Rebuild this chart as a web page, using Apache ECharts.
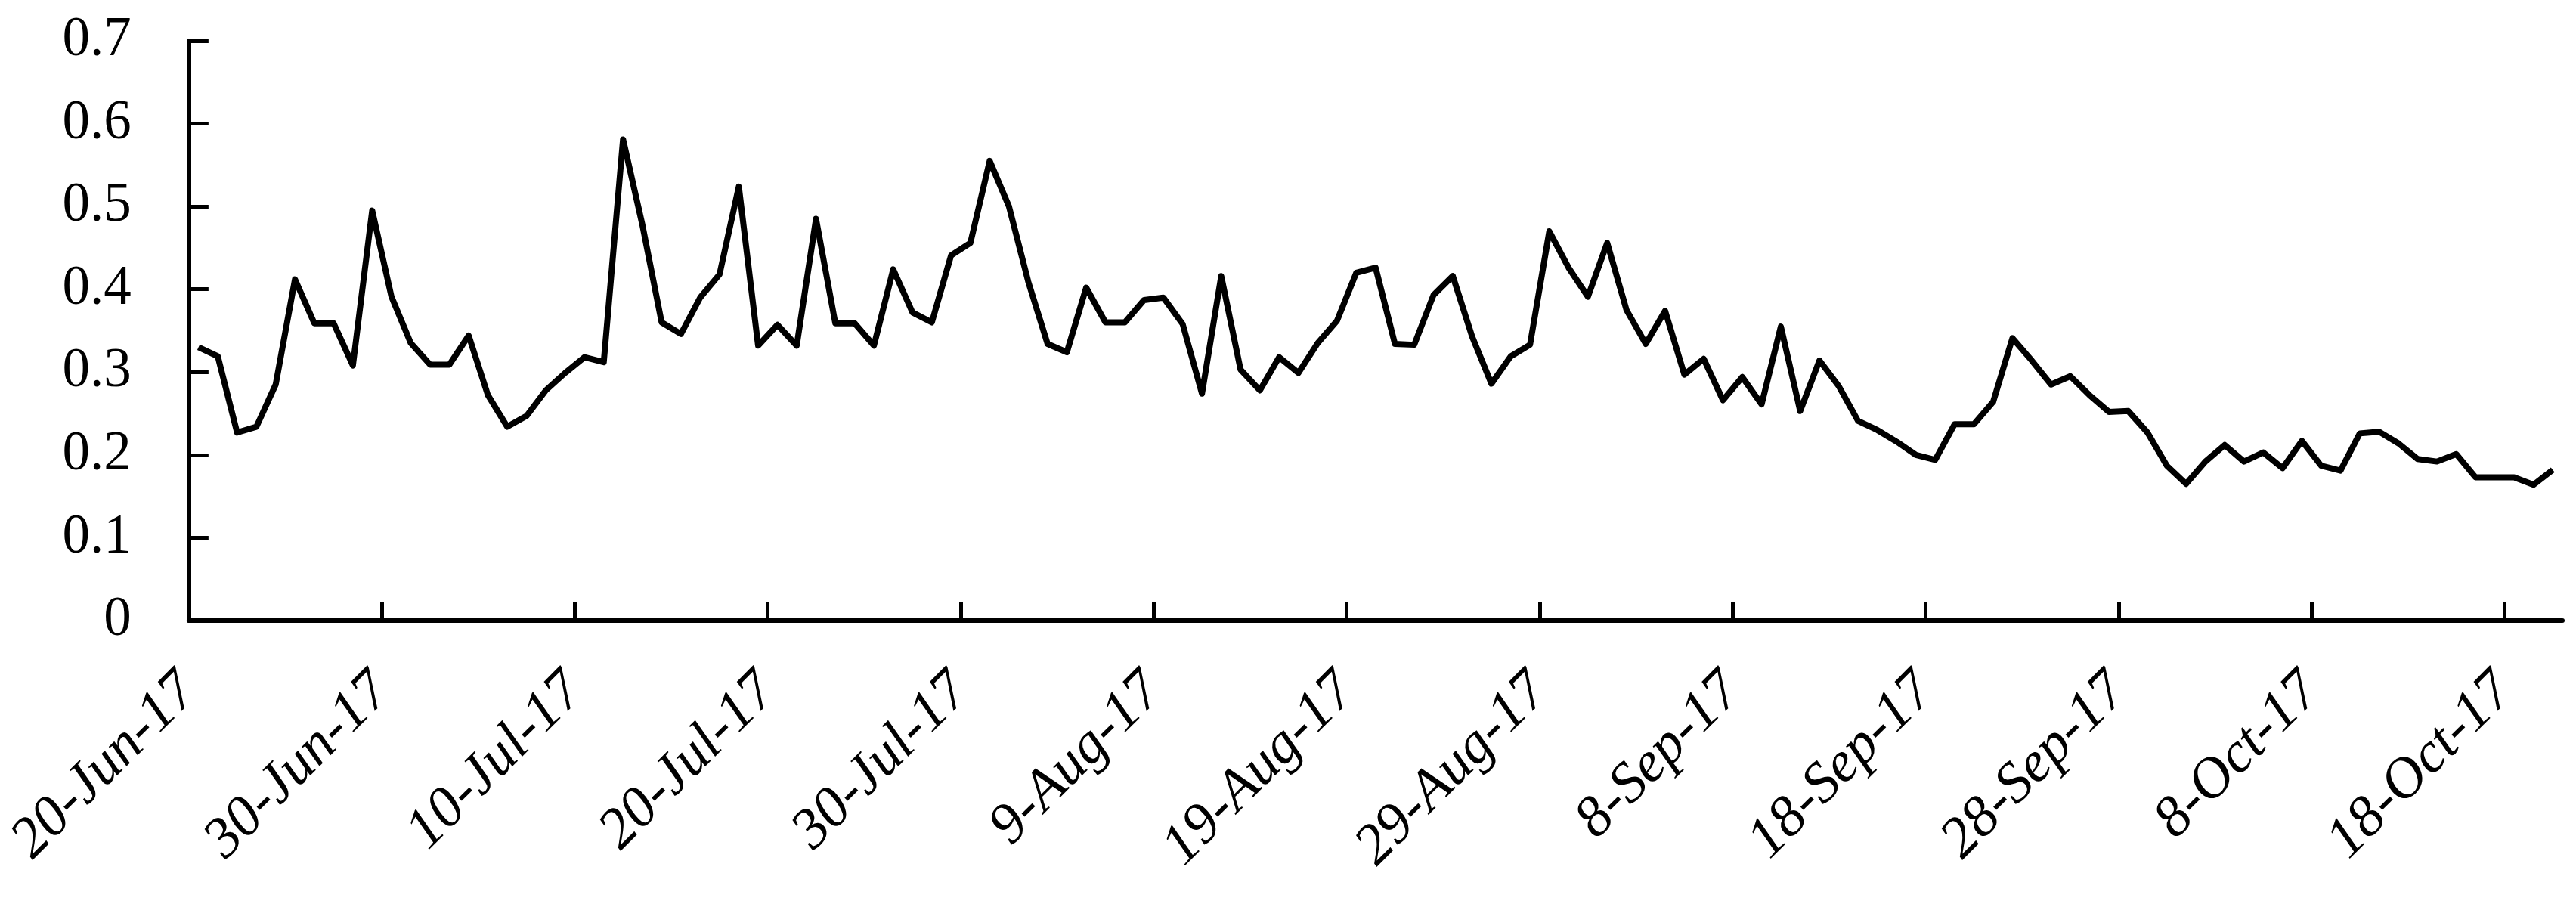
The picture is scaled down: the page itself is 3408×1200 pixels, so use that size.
<!DOCTYPE html>
<html>
<head>
<meta charset="utf-8">
<script src="https://cdn.jsdelivr.net/npm/echarts@6.0.0/dist/echarts.min.js"></script>
<style>
  html, body { margin: 0; padding: 0; background: #fff; }
  #main { width: 3408px; height: 1200px; }
</style>
</head>
<body>
<div id="main"></div>
<script>
// day index of each x tick (days after 20-Jun-17) and its label
const tickDays = [0, 10, 20, 30, 40, 50, 60, 70, 80, 90, 100, 110, 120];
const tickLabels = ['20-Jun-17', '30-Jun-17', '10-Jul-17', '20-Jul-17', '30-Jul-17', '9-Aug-17',
  '19-Aug-17', '29-Aug-17', '8-Sep-17', '18-Sep-17', '28-Sep-17', '8-Oct-17', '18-Oct-17'];
const dayCount = 123;

// daily values, 20-Jun-17 .. 20-Oct-17
const values = [
  0.330, 0.319, 0.227, 0.234, 0.285, 0.412, 0.359, 0.359, 0.308, 0.495,
  0.391, 0.335, 0.309, 0.309, 0.344, 0.272, 0.234, 0.247, 0.278, 0.299,
  0.318, 0.312, 0.581, 0.478, 0.360, 0.346, 0.390, 0.418, 0.524, 0.332,
  0.357, 0.332, 0.485, 0.359, 0.359, 0.332, 0.424, 0.372, 0.360, 0.441,
  0.456, 0.555, 0.500, 0.409, 0.334, 0.324, 0.402, 0.360, 0.360, 0.387,
  0.390, 0.358, 0.274, 0.416, 0.303, 0.278, 0.318, 0.299, 0.335, 0.362,
  0.420, 0.426, 0.334, 0.333, 0.393, 0.416, 0.343, 0.286, 0.319, 0.333,
  0.470, 0.426, 0.391, 0.456, 0.375, 0.334, 0.374, 0.297, 0.316, 0.266,
  0.294, 0.261, 0.355, 0.253, 0.314, 0.283, 0.241, 0.230, 0.216, 0.200,
  0.194, 0.237, 0.237, 0.264, 0.341, 0.314, 0.285, 0.295, 0.272, 0.252,
  0.253, 0.227, 0.187, 0.165, 0.192, 0.212, 0.192, 0.203, 0.184, 0.217,
  0.187, 0.181, 0.226, 0.228, 0.214, 0.195, 0.192, 0.201, 0.173, 0.173,
  0.173, 0.164, 0.182
];

const initChart = () => {
  const myChart = echarts.init(document.getElementById('main'));
  // each day sits in the middle of its slot, ticks are on the slot borders
  const points = values.map((v, i) => [i + 0.5, v]);

  myChart.setOption({
    animation: false,
    backgroundColor: '#ffffff',
    grid: {
      left: 245,
      right: 18,
      top: 54,
      bottom: 379,
    },
    xAxis: {
      type: 'value',
      min: 0,
      max: dayCount,
      interval: 10,
      splitLine: { show: false },
      axisLine: {
        show: true,
        onZero: false,
        lineStyle: { color: '#000', width: 6 },
      },
      axisTick: {
        show: true,
        inside: true,
        length: 24,
        customValues: tickDays,
        lineStyle: { color: '#000', width: 5 },
      },
      axisLabel: {
        customValues: tickDays,
        rotate: 45,
        margin: 82,
        color: '#000',
        fontSize: 76,
        fontStyle: 'italic',
        fontFamily: 'Liberation Serif, serif',
        formatter: (val) => tickLabels[tickDays.indexOf(val)],
      },
    },
    yAxis: {
      type: 'value',
      min: 0,
      max: 0.7,
      interval: 0.1,
      splitLine: { show: false },
      axisLine: {
        show: true,
        lineStyle: { color: '#000', width: 6 },
      },
      axisTick: {
        show: true,
        inside: true,
        length: 26,
        lineStyle: { color: '#000', width: 5 },
      },
      axisLabel: {
        margin: 76,
        color: '#000',
        fontSize: 73,
        fontFamily: 'Liberation Serif, serif',
      },
    },
    series: [
      {
        type: 'line',
        data: points,
        showSymbol: false,
        symbol: 'none',
        lineStyle: { color: '#000', width: 8, join: 'round' },
      },
    ],
  });
};

initChart();
</script>
</body>
</html>
